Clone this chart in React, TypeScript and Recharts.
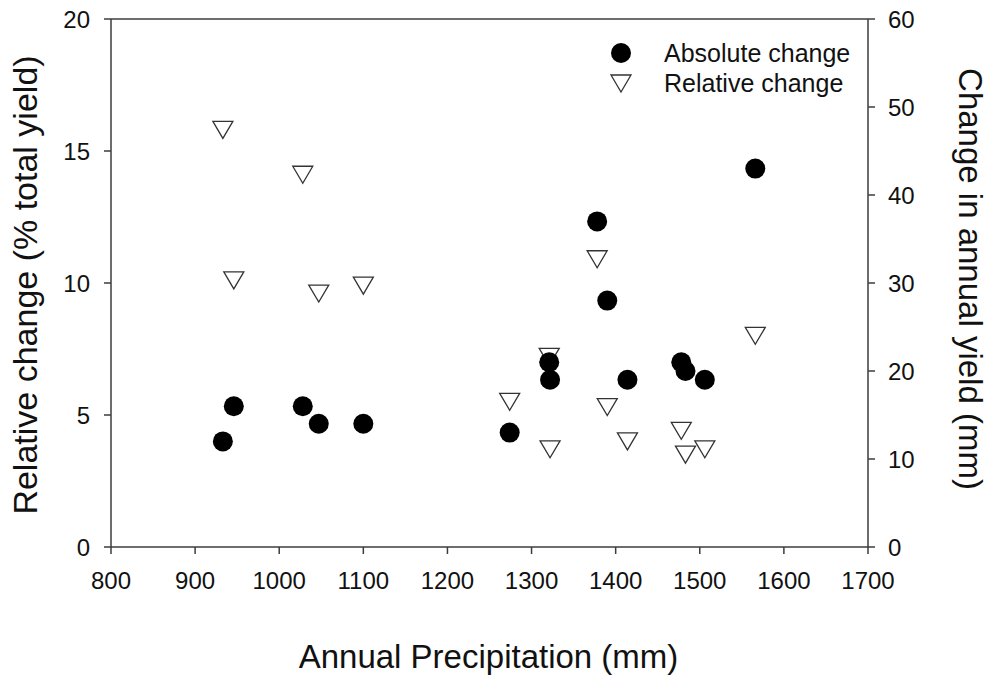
import { ScatterChart, Scatter, XAxis, YAxis, ReferenceLine, Label } from "recharts";

const FONT = '"Liberation Sans", Arial, sans-serif';
const INK = "#111";
const AXIS = "#3c3c3c";

// annual precipitation (mm) for each site-year
const precipitation = [933, 946, 1028, 1047, 1100, 1274, 1321, 1322, 1378, 1390, 1414, 1478, 1483, 1506, 1566];
// change in annual yield (mm), right axis
const absoluteChange = [12, 16, 16, 14, 14, 13, 21, 19, 37, 28, 19, 21, 20, 19, 43];
// relative change (% of total yield), left axis
const relativeChange = [15.8, 10.1, 14.1, 9.6, 9.9, 5.5, 7.2, 3.7, 10.9, 5.3, 4.0, 4.4, 3.5, 3.7, 8.0];

const xTicks = [800, 900, 1000, 1100, 1200, 1300, 1400, 1500, 1600, 1700];
const leftTicks = [0, 5, 10, 15, 20];
const rightTicks = [0, 10, 20, 30, 40, 50, 60];

const absData = precipitation.map((x, i) => ({ x, y: absoluteChange[i] }));
const relData = precipitation.map((x, i) => ({ x, y: relativeChange[i] }));

const tickStyle = { fontSize: 24, fontFamily: FONT, fill: INK };

function Dot(props: any) {
  const { cx, cy } = props;
  return <circle cx={cx} cy={cy} r={10} fill="#000" />;
}

function DownTriangle(props: any) {
  const { cx, cy } = props;
  const d = `M${cx - 10},${cy - 8.5} L${cx + 10},${cy - 8.5} L${cx},${cy + 8.5} Z`;
  return <path d={d} fill="#fff" stroke="#333" strokeWidth={1.3} />;
}

export default function App() {
  return (
    <div style={{ position: "absolute", left: 0, top: 0, background: "#fff" }}>
      <ScatterChart width={988} height={675} margin={{ top: 19, right: 0, bottom: 0, left: 0 }}>
        <XAxis
          type="number"
          dataKey="x"
          domain={[800, 1700]}
          ticks={xTicks}
          height={128}
          tickSize={7}
          tickMargin={18}
          tick={tickStyle}
          stroke={AXIS}
          strokeWidth={1.5}
          allowDataOverflow
        >
          <Label
            content={(p: any) => {
              const vb = p.viewBox || {};
              return (
                <text x={vb.x + vb.width / 2 - 1} y={668} textAnchor="middle" fontSize={33} fontFamily={FONT} fill={INK}>
                  Annual Precipitation (mm)
                </text>
              );
            }}
          />
        </XAxis>
        <YAxis
          yAxisId="left"
          type="number"
          dataKey="y"
          domain={[0, 20]}
          ticks={leftTicks}
          width={111}
          tickSize={7}
          tickMargin={14}
          tick={tickStyle}
          stroke={AXIS}
          strokeWidth={1.5}
        >
          <Label
            content={(p: any) => {
              const vb = p.viewBox || {};
              const cy = vb.y + vb.height / 2 + 2;
              return (
                <text x={37} y={cy} transform={`rotate(-90, 37, ${cy})`} textAnchor="middle" fontSize={34} fontFamily={FONT} fill={INK}>
                  Relative change (% total yield)
                </text>
              );
            }}
          />
        </YAxis>
        <YAxis
          yAxisId="right"
          orientation="right"
          type="number"
          dataKey="y"
          domain={[0, 60]}
          ticks={rightTicks}
          width={120}
          tickSize={7}
          tickMargin={13}
          tick={tickStyle}
          stroke={AXIS}
          strokeWidth={1.5}
        >
          <Label
            content={(p: any) => {
              const vb = p.viewBox || {};
              const cy = vb.y + vb.height / 2 - 4;
              return (
                <text x={959} y={cy} transform={`rotate(90, 959, ${cy})`} textAnchor="middle" fontSize={33} fontFamily={FONT} fill={INK}>
                  Change in annual yield (mm)
                </text>
              );
            }}
          />
        </YAxis>
        <ReferenceLine yAxisId="left" y={20} stroke={AXIS} strokeWidth={1.5} />
        <Scatter name="Relative change" data={relData} yAxisId="left" shape={DownTriangle} isAnimationActive={false} />
        <Scatter name="Absolute change" data={absData} yAxisId="right" shape={Dot} isAnimationActive={false} />
        <g>
          <circle cx={621} cy={53} r={10} fill="#000" />
          <text x={664} y={62} fontSize={25} fontFamily={FONT} fill={INK}>Absolute change</text>
          <path d="M611,75 L631,75 L621,92 Z" fill="#fff" stroke="#333" strokeWidth={1.3} />
          <text x={664} y={92} fontSize={25} fontFamily={FONT} fill={INK}>Relative change</text>
        </g>
      </ScatterChart>
    </div>
  );
}
